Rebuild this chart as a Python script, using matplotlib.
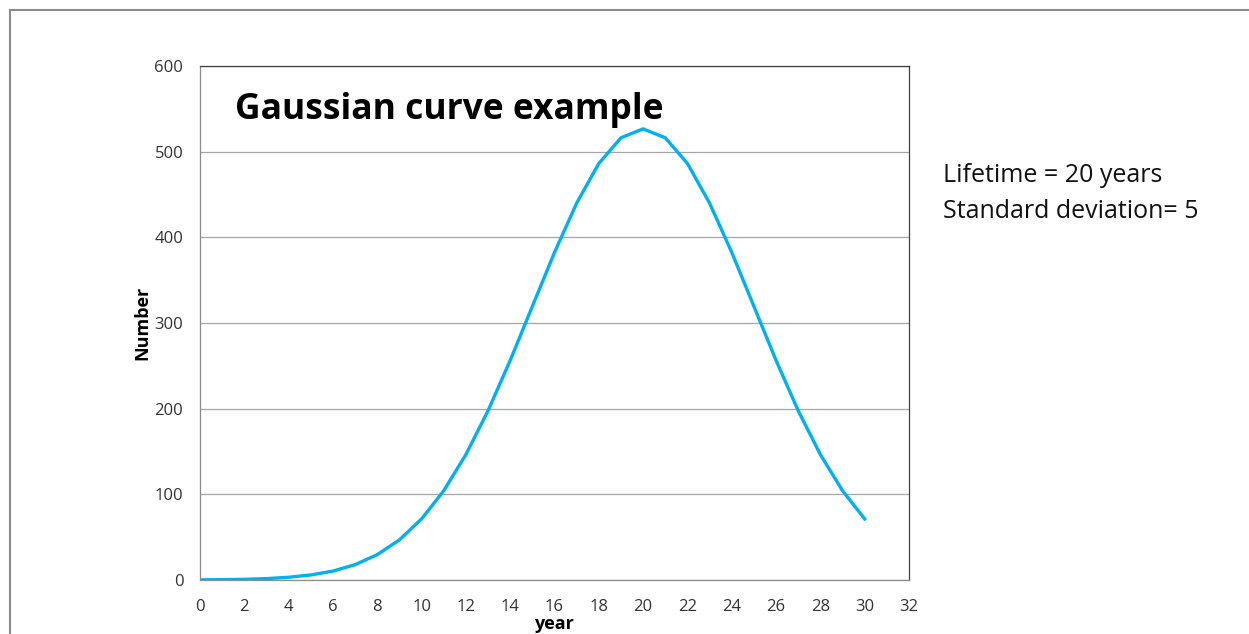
import matplotlib
matplotlib.use("Agg")
import matplotlib.pyplot as plt
from matplotlib.lines import Line2D

years = list(range(0, 31))
number = [0.2, 0.4, 0.8, 1.6, 3.2, 5.9, 10.4, 17.9, 29.6, 46.8, 71.3,
          104.2, 146.4, 197.6, 256.3, 319.4, 382.4, 439.9, 486.2, 516.2, 526.6,
          516.2, 486.2, 439.9, 382.4, 319.4, 256.3, 197.6, 146.4, 104.2, 71.3]
xticks = list(range(0, 33, 2))
yticks = list(range(0, 601, 100))

plt.rcParams['font.family'] = ['Open Sans', 'DejaVu Sans']

W, H = 1249, 634
fig = plt.figure(figsize=(W / 100, H / 100), dpi=100)
fig.patch.set_facecolor('white')

# outer frame
fig.add_artist(Line2D([10 / W, 10 / W], [0, 1 - 10 / H], transform=fig.transFigure, color='#8c8c8c', lw=1.5))
fig.add_artist(Line2D([10 / W, 1], [1 - 10 / H, 1 - 10 / H], transform=fig.transFigure, color='#8c8c8c', lw=1.5))

ax = fig.add_axes([200 / W, (H - 580) / H, (909 - 200) / W, (580 - 66) / H])
ax.plot(years, number, color='#00B0F0', lw=2.4, solid_joinstyle='miter')
ax.set_xlim(0, 32)
ax.set_ylim(0, 600)
ax.set_xticks(xticks)
ax.set_yticks(yticks)
ax.tick_params(length=0, labelsize=12, colors='#333333')
ax.tick_params(axis='x', pad=14)
ax.tick_params(axis='y', pad=12)
ax.grid(axis='y', color='#a6a6a6', lw=0.9)
ax.set_axisbelow(True)
for s in ['left', 'bottom']:
    ax.spines[s].set_color('#8c8c8c')
for s in ['top', 'right']:
    ax.spines[s].set_color('#404040')
for s in ax.spines.values():
    s.set_linewidth(0.9)

ax.set_xlabel('year', fontsize=13, fontweight='bold', labelpad=0)
ax.set_ylabel('Number', fontsize=13, fontweight='bold', labelpad=2)

ax.text(235 / W, 1 - 110 / H, 'Gaussian curve example', transform=fig.transFigure,
        fontsize=25.5, fontweight='bold', va='center', ha='left', color='black')
fig.text(943 / W, 1 - 175 / H, 'Lifetime = 20 years', fontsize=18, va='center', ha='left', color='#111111')
fig.text(943 / W, 1 - 212 / H, 'Standard deviation= 5', fontsize=18, va='center', ha='left', color='#111111')

fig.savefig('out.png', dpi=100)
